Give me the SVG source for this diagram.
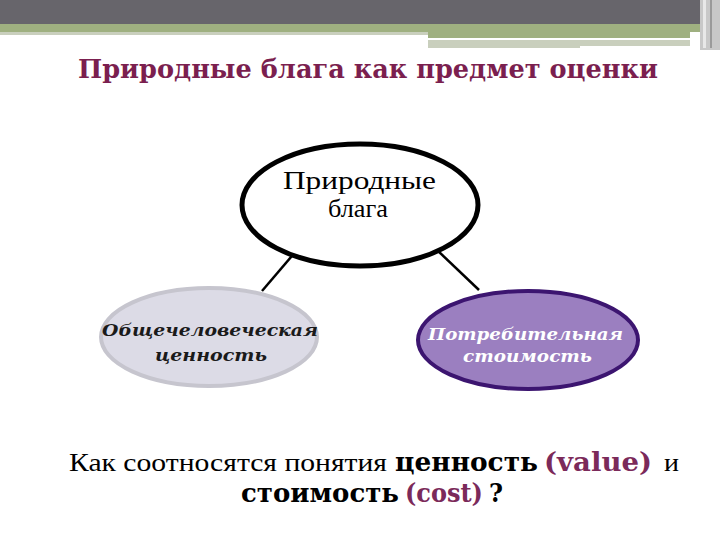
<svg xmlns="http://www.w3.org/2000/svg" width="720" height="540" viewBox="0 0 720 540">
<style>
text{font-family:"DejaVu Serif","Liberation Serif",serif}
.reg{font-family:"Liberation Serif","DejaVu Serif",serif}
.bi{font-size:17px;font-weight:bold;font-style:italic}
.conn{stroke:#000;stroke-width:2.5;fill:none}
</style>
<rect width="720" height="540" fill="#ffffff"/>
<g id="header">
<rect x="0" y="0" width="720" height="24" fill="#67656b"/>
<rect x="0" y="24" width="720" height="8" fill="#9fb080"/>
<rect x="0" y="32" width="428" height="3" fill="#c9cfbd"/>
<rect x="428" y="32" width="262" height="6" fill="#9fb080"/>
<rect x="428" y="40" width="262" height="6" fill="#c9cfbd"/>
<rect x="428" y="43" width="152" height="5" fill="#c9cfbd"/>
<rect x="700" y="0" width="20" height="50" fill="#c8c8c8"/>
<rect x="703" y="0" width="3" height="48" fill="#e8e8e8"/>
<rect x="710" y="0" width="2" height="48" fill="#9a9a9a"/>
</g>
<text id="title" x="78" y="78" font-size="26" font-weight="bold" fill="#7b1f4f" textLength="580" lengthAdjust="spacingAndGlyphs">Природные блага как предмет оценки</text>
<g id="connectors">
<line class="conn" x1="297" y1="250" x2="262" y2="291"/>
<line class="conn" x1="437" y1="250" x2="479" y2="290"/>
</g>
<g id="node-goods">
<ellipse cx="360" cy="205" rx="118" ry="61" fill="#ffffff" stroke="#000" stroke-width="5"/>
<text class="reg" x="283" y="189" font-size="25" fill="#000" textLength="153" lengthAdjust="spacingAndGlyphs">Природные</text>
<text class="reg" x="328" y="217" font-size="25" fill="#000" textLength="60" lengthAdjust="spacingAndGlyphs">блага</text>
</g>
<g id="node-value">
<ellipse cx="209" cy="337" rx="108" ry="49" fill="#dcdbe6" stroke="#c6c5ce" stroke-width="4"/>
<text class="bi" x="102" y="336" fill="#1a1a1a" textLength="216" lengthAdjust="spacingAndGlyphs">Общечеловеческая</text>
<text class="bi" x="155" y="361" fill="#1a1a1a" textLength="112" lengthAdjust="spacingAndGlyphs">ценность</text>
</g>
<g id="node-cost">
<ellipse cx="528" cy="340" rx="110" ry="49" fill="#9b7fc0" stroke="#3c1570" stroke-width="4"/>
<text class="bi" x="428" y="340" fill="#ffffff" textLength="195" lengthAdjust="spacingAndGlyphs">Потребительная</text>
<text class="bi" x="463" y="362" fill="#ffffff" textLength="129" lengthAdjust="spacingAndGlyphs">стоимость</text>
</g>
<g id="question" font-size="26" fill="#000">
<text class="reg" x="69" y="471" textLength="318" lengthAdjust="spacingAndGlyphs">Как соотносятся понятия</text>
<text x="395" y="471" font-weight="bold" textLength="143" lengthAdjust="spacingAndGlyphs">ценность</text>
<text x="544" y="471" font-weight="bold" fill="#7b2a5a" textLength="108" lengthAdjust="spacingAndGlyphs">(value)</text>
<text class="reg" x="664" y="471" textLength="15" lengthAdjust="spacingAndGlyphs">и</text>
<text x="241" y="502" font-weight="bold" textLength="158" lengthAdjust="spacingAndGlyphs">стоимость</text>
<text x="405" y="502" font-weight="bold" fill="#7b2a5a" textLength="78" lengthAdjust="spacingAndGlyphs">(cost)</text>
<text x="489" y="502" font-weight="bold" textLength="14" lengthAdjust="spacingAndGlyphs">?</text>
</g>
</svg>
